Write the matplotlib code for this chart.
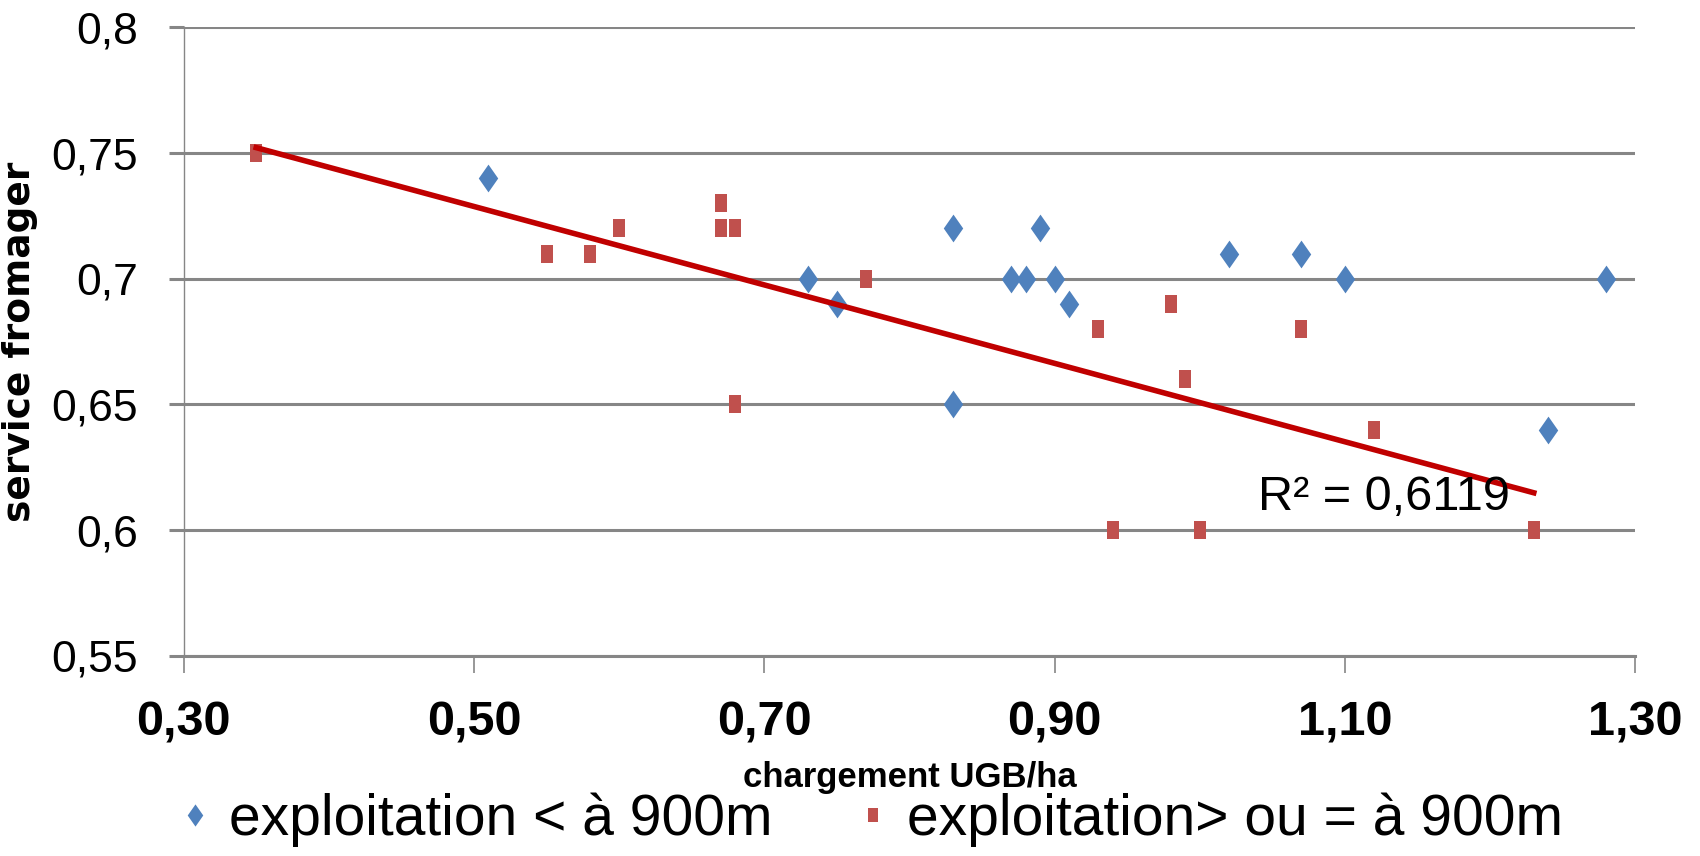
"""Scatter of cheese service vs stocking rate, with a linear trend on the upper farms."""

from __future__ import annotations

import matplotlib

matplotlib.use("Agg")
import matplotlib.pyplot as plt
import numpy as np
from matplotlib.ticker import FixedLocator

# Farms below 900 m
low_x = [0.51, 0.73, 0.75, 0.83, 0.83, 0.87, 0.88, 0.89, 0.90, 0.91, 1.02, 1.07, 1.10, 1.24, 1.28]
low_y = [0.74, 0.70, 0.69, 0.72, 0.65, 0.70, 0.70, 0.72, 0.70, 0.69, 0.71, 0.71, 0.70, 0.64, 0.70]

# Farms at or above 900 m
high_x = [0.35, 0.55, 0.58, 0.60, 0.67, 0.67, 0.68, 0.68, 0.77, 0.93, 0.94, 0.98, 0.99, 1.00, 1.07, 1.12, 1.23]
high_y = [0.75, 0.71, 0.71, 0.72, 0.73, 0.72, 0.72, 0.65, 0.70, 0.68, 0.60, 0.69, 0.66, 0.60, 0.68, 0.64, 0.60]

x_ticks = [0.30, 0.50, 0.70, 0.90, 1.10, 1.30]
x_tick_labels = ["0,30", "0,50", "0,70", "0,90", "1,10", "1,30"]
y_ticks = [0.55, 0.60, 0.65, 0.70, 0.75, 0.80]
y_tick_labels = ["0,55", "0,6", "0,65", "0,7", "0,75", "0,8"]

series_labels = ["exploitation < à 900m", "exploitation> ou = à 900m"]
r2_label = "R² = 0,6119"

BLUE = "#4F81BD"
RED = "#C0504D"
TREND = "#C00000"
GRID = "#868686"

# Excel markers look squeezed sideways in the source picture
DIAMOND = [(0, -1), (0.7, 0), (0, 1), (-0.7, 0), (0, -1)]
SQUARE = [(-0.7, -1), (0.7, -1), (0.7, 1), (-0.7, 1), (-0.7, -1)]

plt.rcParams["font.family"] = ["Liberation Sans", "DejaVu Sans"]


def main() -> None:
    fig = plt.figure(figsize=(17, 8.56), dpi=100)
    ax = fig.add_axes([0.108, 0.234, 0.854, 0.734])

    ax.plot(low_x, low_y, linestyle="none", marker=DIAMOND, markersize=20,
            color=BLUE, markeredgewidth=0, label=series_labels[0], zorder=3)
    ax.plot(high_x, high_y, linestyle="none", marker=SQUARE, markersize=13,
            color=RED, markeredgewidth=0, label=series_labels[1], zorder=3)

    # linear trend fitted on the upper farms, spanning their x range
    slope, intercept = np.polyfit(high_x, high_y, 1)
    fit_x = np.array([min(high_x), max(high_x)])
    ax.plot(fit_x, slope * fit_x + intercept, color=TREND, linewidth=4.0, zorder=4)
    ax.text(1.04, 0.613, r2_label, fontsize=35, ha="left", va="center", zorder=5)

    ax.set_xlim(0.30, 1.30)
    ax.set_ylim(0.55, 0.80)
    ax.xaxis.set_major_locator(FixedLocator(x_ticks))
    ax.yaxis.set_major_locator(FixedLocator(y_ticks))
    ax.set_xticklabels(x_tick_labels, fontsize=35, fontweight="bold")
    ax.set_yticklabels(y_tick_labels, fontsize=32)

    ax.grid(axis="y", color=GRID, linewidth=2.2, zorder=1)
    ax.set_axisbelow(True)
    for side in ("top", "right"):
        ax.spines[side].set_visible(False)
    ax.spines["left"].set_color(GRID)
    ax.spines["left"].set_linewidth(1.0)
    ax.spines["bottom"].set_color(GRID)
    ax.spines["bottom"].set_linewidth(2.2)

    ax.tick_params(axis="x", direction="out", length=12, width=1.2, color=GRID, pad=20)
    ax.tick_params(axis="y", direction="out", length=11, width=2.2, color=GRID, pad=22)

    ax.set_xlabel("chargement UGB/ha", fontsize=25, fontweight="bold")
    ax.xaxis.set_label_coords(0.5, -0.168)
    ax.set_ylabel("service fromager", fontsize=27, fontweight="bold", family="DejaVu Sans")
    ax.yaxis.set_label_coords(-0.10, 0.5)

    fig.legend(loc="center", bbox_to_anchor=(0.512, 0.042), ncol=2, frameon=False,
               fontsize=41, handlelength=0.6, handletextpad=0.3, columnspacing=1.45,
               markerscale=0.8, borderaxespad=0, borderpad=0)

    fig.savefig("out.png", dpi=100)
    plt.close(fig)


if __name__ == "__main__":
    main()
